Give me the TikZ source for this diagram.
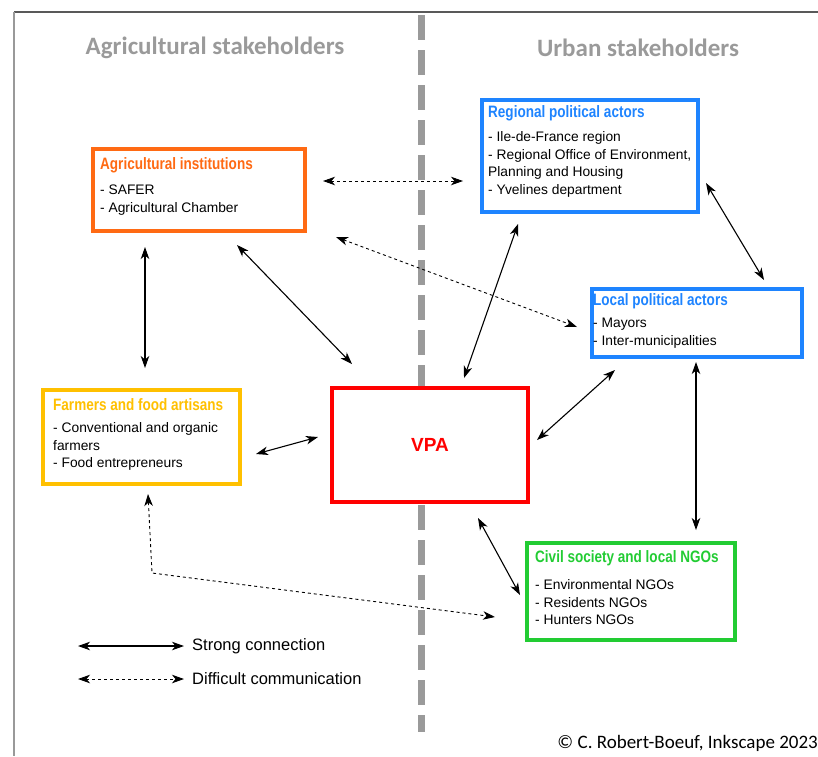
\documentclass[tikz,border=0pt]{standalone}
\usepackage{fontspec}
\setmainfont{Liberation Sans}
\newfontfamily\headfont{Carlito}
\newfontfamily\titlefont[FakeStretch=0.82]{Liberation Sans}
\usetikzlibrary{arrows.meta,calc}

\definecolor{agriorange}{HTML}{FF6A13}
\definecolor{polblue}{HTML}{1E84FF}
\definecolor{farmyellow}{HTML}{FFC000}
\definecolor{vpared}{HTML}{FF0000}
\definecolor{ngogreen}{HTML}{22CC33}
\definecolor{sidegray}{HTML}{9A9A9A}

\newcommand{\boxtitle}[2]{{\titlefont\bfseries\fontsize{16.5}{17.5}\selectfont\color{#1}#2}}

\tikzset{
  box/.style={draw, fill=white, line width=3.5pt, outer sep=0pt, inner sep=0pt},
  boxtext/.style={anchor=north west, inner sep=0pt, align=left, font=\fontsize{13.8}{17.5}\selectfont},
  heading/.style={text=sidegray, font=\headfont\bfseries\fontsize{25}{28}\selectfont},
  strongarrow/.style={<->, line width=1.1pt},
  weakarrow/.style={<->, line width=0.9pt, dash pattern=on 3pt off 3pt},
}

\begin{document}
\begin{tikzpicture}[x=1pt, y=-1pt, >={Stealth[length=12pt, width=8.5pt, inset=3.5pt]}]
  \useasboundingbox (0,0) rectangle (818,756);

  % frame and divider
  \draw[black!65, line width=1.5pt] (14,12) -- (818,12);
  \draw[black!40, line width=1.5pt] (14,12) -- (14,756);
  \draw[sidegray, line width=7pt, dash pattern=on 25pt off 10pt] (421,15) -- (421,732);

  \node[heading] (agrihead) at (215,48) {Agricultural stakeholders};
  \node[heading] (urbanhead) at (638,48) {Urban stakeholders};

  % boxes
  \node[box, draw=agriorange, minimum width=212pt, minimum height=82pt] (agri) at (199,190) {};
  \node[box, draw=polblue, minimum width=216pt, minimum height=112pt] (regional) at (590,156) {};
  \node[box, draw=polblue, minimum width=210pt, minimum height=68pt] (local) at (697,323) {};
  \node[box, draw=farmyellow, minimum width=197pt, minimum height=94pt] (farmers) at (141.5,437) {};
  \node[box, draw=vpared, line width=4pt, minimum width=196pt, minimum height=114pt,
        text=vpared, font=\bfseries\fontsize{19}{22}\selectfont] (vpa) at (430,445) {VPA};
  \node[box, draw=ngogreen, minimum width=208pt, minimum height=97pt] (civil) at (631,591.5) {};

  \node[boxtext] (agritext) at (100,157) {\boxtitle{agriorange}{Agricultural institutions}\\[8pt]
    - SAFER\\- Agricultural Chamber};
  \node[boxtext] (regionaltext) at (488,105) {\boxtitle{polblue}{Regional political actors}\\[7pt]
    - Ile-de-France region\\- Regional Office of Environment,\\Planning and Housing\\- Yvelines department};
  \node[boxtext] (localtext) at (593,293) {\boxtitle{polblue}{Local political actors}\\[5pt]
    - Mayors\\- Inter-municipalities};
  \node[boxtext] (farmerstext) at (53,398) {\boxtitle{farmyellow}{Farmers and food artisans}\\[5pt]
    - Conventional and organic\\farmers\\- Food entrepreneurs};
  \node[boxtext] (civiltext) at (535,550) {\boxtitle{ngogreen}{Civil society and local NGOs}\\[10pt]
    - Environmental NGOs\\- Residents NGOs\\- Hunters NGOs};

  % connections
  \draw[weakarrow] ($(agri.east)+(18,-9)$) -- ($(regional.west)+(-19,25)$);
  \draw[weakarrow] ($(agri.south east)+(31,6)$) -- ($(local.west)+(-15,4)$);
  \draw[strongarrow] ($(agri.south)+(38,14)$) -- ($(vpa.north west)+(20,-24)$);
  \draw[strongarrow] ($(agri.south)+(-54,16)$) -- ($(farmers.north)+(3.5,-22)$);
  \draw[strongarrow] ($(regional.south)+(-72,12)$) -- ($(vpa.north)+(34,-10)$);
  \draw[strongarrow] ($(regional.east)+(8,27)$) -- ($(local.north)+(67,-9)$);
  \draw[strongarrow] ($(local.south)+(-82,13)$) -- ($(vpa.east)+(9,-5)$);
  \draw[strongarrow] ($(local.south)+(-1,5)$) -- ($(civil.north)+(65,-13)$);
  \draw[strongarrow] ($(vpa.west)+(-14,-8)$) -- ($(farmers.east)+(16,17)$);
  \draw[strongarrow] ($(vpa.south)+(48,16)$) -- ($(civil.west)+(-7,3.5)$);
  \coordinate (bend) at (152,573);
  \draw[weakarrow] ($(farmers.south)+(6.5,10)$) -- (bend) -- ($(civil.south west)+(-32,-23)$);

  % legend
  \node[anchor=west, inner sep=0pt, font=\fontsize{16.5}{20}\selectfont] (strong) at (192,646) {Strong connection};
  \node[anchor=west, inner sep=0pt, font=\fontsize{16.5}{20}\selectfont] (difficult) at (192,679) {Difficult communication};
  \coordinate (strongstart) at (78,646);
  \coordinate (difficultstart) at (78,679);
  \draw[strongarrow] (strongstart) -- ($(strong.west)+(-8,0)$);
  \draw[weakarrow] (difficultstart) -- ($(difficult.west)+(-8,0)$);

  \node[anchor=east, inner sep=0pt, font=\headfont\fontsize{19}{22}\selectfont] (credit) at (818,743) {© C. Robert-Boeuf, Inkscape 2023};
\end{tikzpicture}
\end{document}
